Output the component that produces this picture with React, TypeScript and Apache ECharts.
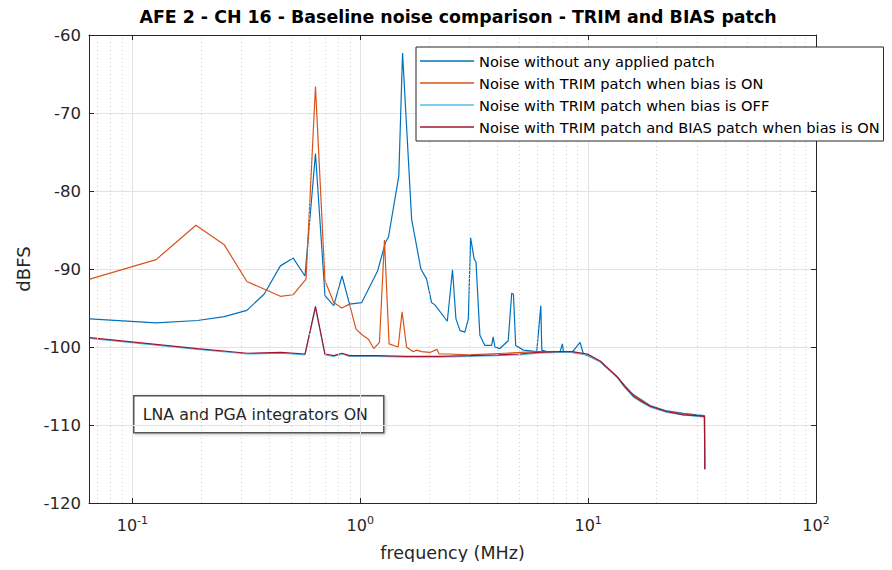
import React, { useEffect, useRef } from "react";
import * as echarts from "echarts";

const TITLE = "AFE 2 - CH 16 - Baseline noise comparison - TRIM and BIAS patch";
const SERIES_NAMES = [
  "Noise without any applied patch",
  "Noise with TRIM patch when bias is ON",
  "Noise with TRIM patch when bias is OFF",
  "Noise with TRIM patch and BIAS patch when bias is ON",
];
const COLORS = ["#0072BD", "#D95319", "#4DBEEE", "#A2142F"];

const freqNoPatch = [
  0.065, 0.127, 0.193, 0.253, 0.318, 0.379, 0.446, 0.508, 0.572, 0.636,
  0.7, 0.765, 0.832, 0.897, 1.015, 1.19, 1.29, 1.33, 1.476, 1.533,
  1.64, 1.68, 1.845, 1.955, 2.056, 2.125, 2.41, 2.54, 2.63, 2.74,
  2.88, 2.98, 3.05, 3.16, 3.22, 3.35, 3.52, 3.77, 3.83, 3.9,
  4.1, 4.46, 4.62, 4.7, 4.81, 5.2, 5.95, 6.2, 6.26, 6.81,
  7.53, 7.71, 7.79, 8.5, 9.22, 9.53, 9.93, 11.3, 13.4, 14.5,
  15.8, 17.2, 18.7, 22.2, 26.2, 30.0, 32.4, 32.5,
];
const dbNoPatch = [
  -96.4, -96.9, -96.6, -96.1, -95.3, -93.2, -89.6, -88.6, -90.9, -75.2,
  -93.4, -94.7, -90.9, -94.5, -94.3, -90.3, -86.6, -85.9, -78.1, -62.3,
  -77.9, -83.6, -90.0, -91.3, -94.3, -94.6, -96.7, -90.1, -96.4, -97.9,
  -98.1, -96.4, -86.0, -88.7, -89.1, -98.5, -99.8, -99.8, -98.7, -100.0,
  -100.2, -99.2, -93.1, -93.2, -99.8, -100.4, -100.6, -94.7, -100.4, -100.7,
  -100.6, -99.6, -100.6, -100.7, -99.4, -100.9, -101.1, -101.9, -103.8, -105.0,
  -106.1, -106.8, -107.5, -108.2, -108.5, -108.7, -108.8, -115.5,
];

const freqTrimOn = [
  0.065, 0.127, 0.19, 0.253, 0.318, 0.446, 0.508, 0.578, 0.636, 0.7,
  0.765, 0.829, 0.897, 0.958, 1.015, 1.086, 1.146, 1.214, 1.277, 1.338,
  1.466, 1.526, 1.596, 1.707, 1.766, 1.857, 2.02, 2.17, 2.22, 2.47,
  3.0, 3.6, 4.3, 5.1, 6.0, 7.2, 8.5, 9.93, 11.3, 13.4,
  14.5, 15.8, 17.2, 18.7, 22.2, 26.2, 30.0, 32.4, 32.5,
];
const dbTrimOn = [
  -91.3, -88.8, -84.4, -86.9, -91.6, -93.5, -93.3, -91.3, -66.6, -91.5,
  -94.3, -95.0, -94.5, -97.7, -98.4, -99.0, -100.2, -99.4, -86.3, -99.6,
  -100.0, -95.5, -100.0, -100.6, -100.4, -100.6, -100.7, -100.3, -100.9, -100.9,
  -101.0, -100.9, -100.8, -100.7, -100.6, -100.6, -100.7, -101.0, -101.9, -103.9,
  -105.0, -106.2, -106.9, -107.6, -108.3, -108.6, -108.8, -108.9, -115.6,
];

const freqTrimOff = [
  0.065, 0.193, 0.32, 0.449, 0.572, 0.636, 0.7, 0.765, 0.832, 0.897,
  1.19, 1.6, 2.2, 3.0, 4.0, 5.0, 6.0, 7.5, 8.5, 9.93,
  11.3, 13.4, 14.5, 15.8, 17.2, 18.7, 22.2, 26.2, 30.0, 32.4, 32.5,
];
const dbTrimOff = [
  -98.9, -100.3, -100.9, -100.8, -101.0, -95.0, -101.0, -101.2, -100.9, -101.2,
  -101.2, -101.3, -101.3, -101.2, -101.1, -101.0, -100.8, -100.7, -100.7, -101.0,
  -101.9, -103.9, -105.2, -106.4, -107.1, -107.7, -108.4, -108.7, -108.9, -109.0, -115.6,
];

const freqTrimBias = [
  0.065, 0.193, 0.32, 0.449, 0.572, 0.636, 0.7, 0.765, 0.832, 0.897,
  1.19, 1.6, 2.2, 3.0, 4.0, 5.0, 6.0, 7.5, 8.5, 9.93,
  11.3, 13.4, 14.5, 15.8, 17.2, 18.7, 22.2, 26.2, 30.0, 32.4, 32.5,
];
const dbTrimBias = [
  -98.8, -100.2, -100.8, -100.7, -100.9, -94.8, -100.9, -101.1, -100.8, -101.1,
  -101.1, -101.2, -101.2, -101.1, -101.0, -100.9, -100.7, -100.6, -100.6, -100.9,
  -101.8, -103.8, -105.1, -106.3, -107.0, -107.6, -108.3, -108.7, -108.8, -108.9, -115.7,
];

const minorGridFreqs = [
  0.07, 0.08, 0.09, 0.2, 0.3, 0.4, 0.5, 0.6, 0.7, 0.8, 0.9,
  2, 3, 4, 5, 6, 7, 8, 9, 20, 30, 40, 50, 60, 70, 80, 90,
];

const X_MIN = 0.0645;
const X_MAX = 100;
const Y_MIN = -120;
const Y_MAX = -60;
const Y_STEP = 10;

const FONT = "DejaVu Sans, Verdana, sans-serif";
const AXIS_COLOR = "#262626";

function pairs(xs: number[], ys: number[]) {
  return xs.map((x, i) => [x, ys[i]]);
}

function powLabel(v: number) {
  const l = Math.log10(v);
  const e = Math.round(l);
  if (Math.abs(l - e) > 1e-6) return "";
  return "{b|10}{s|" + e + "}";
}

export default function App() {
  const ref = useRef<HTMLDivElement>(null);
  useEffect(() => {
    if (!ref.current) return;
    const chart = echarts.init(ref.current, undefined, { renderer: "svg" });
    const seriesData = [
      pairs(freqNoPatch, dbNoPatch),
      pairs(freqTrimOn, dbTrimOn),
      pairs(freqTrimOff, dbTrimOff),
      pairs(freqTrimBias, dbTrimBias),
    ];
    const lineSeries = SERIES_NAMES.map((name, i) => ({
      name,
      type: "line",
      data: seriesData[i],
      symbol: "none",
      showSymbol: false,
      z: 3,
      lineStyle: { color: COLORS[i], width: 1.2 },
      itemStyle: { color: COLORS[i] },
    }));
    const option: any = {
      animation: false,
      backgroundColor: "#ffffff",
      textStyle: { fontFamily: FONT },
      title: {
        text: TITLE,
        left: 453,
        top: 3,
        textAlign: "center",
        textStyle: { fontFamily: FONT, fontSize: 17.4, fontWeight: "bold", color: "#000" },
      },
      grid: { left: 89, right: 76, top: 35, bottom: 67, containLabel: false },
      legend: {
        data: SERIES_NAMES,
        orient: "vertical",
        left: 416,
        top: 47,
        padding: [3, 4, 3, 4],
        itemGap: 0,
        itemWidth: 54,
        itemHeight: 1.4,
        icon: "rect",
        backgroundColor: "#ffffff",
        borderColor: AXIS_COLOR,
        borderWidth: 1,
        borderRadius: 0,
        z: 10,
        textStyle: { fontFamily: FONT, fontSize: 14.6, color: "#000", lineHeight: 22 },
      },
      xAxis: [
        {
          type: "log",
          logBase: 10,
          min: X_MIN,
          max: X_MAX,
          name: "frequency (MHz)",
          nameLocation: "middle",
          nameGap: 41,
          nameTextStyle: { fontFamily: FONT, fontSize: 17.5, color: AXIS_COLOR },
          axisLine: { show: true, lineStyle: { color: AXIS_COLOR, width: 1 } },
          axisTick: { show: true, inside: true, length: 5, lineStyle: { color: AXIS_COLOR } },
          axisLabel: {
            margin: 12,
            showMinLabel: false,
            formatter: powLabel,
            rich: {
              b: { fontFamily: FONT, fontSize: 16, color: AXIS_COLOR },
              s: { fontFamily: FONT, fontSize: 11, color: AXIS_COLOR, verticalAlign: "top", padding: [0, 0, 9, 0] },
            },
          },
          splitLine: { show: true, lineStyle: { color: "#e3e3e3", width: 1 } },
        },
        {
          type: "log",
          logBase: 10,
          min: X_MIN,
          max: X_MAX,
          position: "top",
          axisLine: { show: true, lineStyle: { color: AXIS_COLOR, width: 1 } },
          axisTick: { show: true, inside: true, length: 5, lineStyle: { color: AXIS_COLOR } },
          axisLabel: { show: false },
          splitLine: { show: false },
        },
      ],
      yAxis: [
        {
          type: "value",
          min: Y_MIN,
          max: Y_MAX,
          interval: Y_STEP,
          name: "dBFS",
          nameLocation: "middle",
          nameGap: 48,
          nameTextStyle: { fontFamily: FONT, fontSize: 18, color: AXIS_COLOR },
          axisLine: { show: true, lineStyle: { color: AXIS_COLOR, width: 1 } },
          axisTick: { show: true, inside: true, length: 5, lineStyle: { color: AXIS_COLOR } },
          axisLabel: { margin: 8, fontFamily: FONT, fontSize: 16.5, color: AXIS_COLOR },
          splitLine: { show: true, lineStyle: { color: "#e3e3e3", width: 1 } },
        },
        {
          type: "value",
          min: Y_MIN,
          max: Y_MAX,
          interval: Y_STEP,
          position: "right",
          axisLine: { show: true, lineStyle: { color: AXIS_COLOR, width: 1 } },
          axisTick: { show: true, inside: true, length: 5, lineStyle: { color: AXIS_COLOR } },
          axisLabel: { show: false },
          splitLine: { show: false },
        },
      ],
      series: [
        {
          name: "minor-grid",
          type: "line",
          data: [],
          z: 1,
          silent: true,
          markLine: {
            silent: true,
            symbol: ["none", "none"],
            label: { show: false },
            lineStyle: { color: "#d0d0d0", type: [1, 3], width: 1 },
            data: minorGridFreqs.map((f) => ({ xAxis: f })),
          },
        },
        ...lineSeries,
      ],
      graphic: [
        {
          type: "group",
          left: 133,
          top: 395,
          z: 20,
          children: [
            {
              type: "rect",
              shape: { x: 0, y: 0, width: 250, height: 37 },
              style: {
                fill: "#ffffff",
                stroke: "#555555",
                lineWidth: 1.5,
                shadowBlur: 3,
                shadowColor: "rgba(0,0,0,0.25)",
                shadowOffsetX: 1,
                shadowOffsetY: 1,
              },
            },
            {
              type: "text",
              x: 9,
              y: 18.5,
              style: {
                text: "LNA and PGA integrators ON",
                fill: "#262626",
                font: "15.8px DejaVu Sans, Verdana, sans-serif",
                textVerticalAlign: "middle",
              },
            },
          ],
        },
      ],
    };
    chart.setOption(option);
    return () => chart.dispose();
  }, []);
  return <div ref={ref} style={{ width: 892, height: 570, margin: -8 }} />;
}
